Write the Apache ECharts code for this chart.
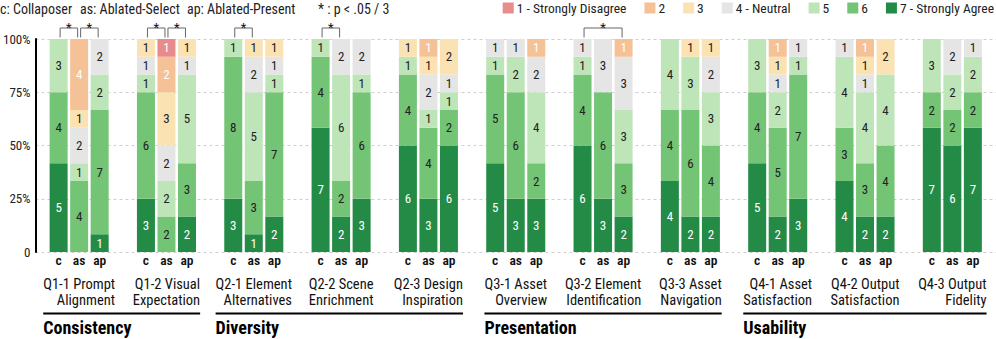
<!DOCTYPE html>
<html><head><meta charset="utf-8">
<script src="https://cdn.jsdelivr.net/npm/echarts@6/dist/echarts.min.js"></script>
<style>html,body{margin:0;padding:0;background:#fff}#chart{width:996px;height:339px}</style>
</head><body><div id="chart"></div>
<script>
// ---------- DATA ----------
const questionIds = ['Q1-1','Q1-2','Q2-1','Q2-2','Q2-3','Q3-1','Q3-2','Q3-3','Q4-1','Q4-2','Q4-3'];
const questionLabels = ['Q1-1 Prompt\nAlignment','Q1-2 Visual\nExpectation','Q2-1 Element\nAlternatives','Q2-2 Scene\nEnrichment','Q2-3 Design\nInspiration','Q3-1 Asset\nOverview','Q3-2 Element\nIdentification','Q3-3 Asset\nNavigation','Q4-1 Asset\nSatisfaction','Q4-2 Output\nSatisfaction','Q4-3 Output\nFidelity'];
const dimensions = ['Consistency','Diversity','Presentation','Usability'];
const dimensionOf = [0,0,1,1,1,2,2,2,3,3,3];
const conditions = ['c','as','ap'];
const levelNames = ['1 - Strongly Disagree','2','3','4 - Neutral','5','6','7 - Strongly Agree'];
const yTickLabels = ['0','25%','50%','75%','100%'];
const headerTexts = ['c: Collaposer','as: Ablated-Select','ap: Ablated-Present','* : p < .05 / 3'];

// counts per level (index = question)
const c1 = [0,0,0,0,0,0,0,0,0,0,0];
const c2 = [0,0,0,0,0,0,0,0,0,0,0];
const c3 = [0,1,0,0,1,0,0,0,0,0,0];
const c4 = [0,1,0,0,0,1,1,0,0,1,0];
const c5 = [3,1,1,1,1,1,1,4,3,4,3];
const c6 = [4,6,8,4,4,5,4,4,4,3,2];
const c7 = [5,3,3,7,6,5,6,4,5,4,7];

const as1 = [0,1,0,0,0,0,0,0,0,0,0];
const as2 = [4,2,0,0,1,0,0,0,1,1,0];
const as3 = [1,3,1,0,1,0,0,1,1,1,0];
const as4 = [2,2,2,2,2,1,3,0,1,1,2];
const as5 = [1,2,5,6,1,2,0,3,2,4,2];
const as6 = [4,2,3,2,4,6,6,6,5,3,2];
const as7 = [0,0,1,2,3,3,3,2,2,2,6];

const ap1 = [0,0,0,0,0,0,0,0,0,0,0];
const ap2 = [0,0,0,0,0,1,1,0,0,0,0];
const ap3 = [0,1,1,0,2,0,0,1,0,2,0];
const ap4 = [2,1,1,2,1,2,3,2,1,0,1];
const ap5 = [2,5,1,1,1,4,3,3,1,4,2];
const ap6 = [7,3,7,6,2,2,3,4,7,4,2];
const ap7 = [1,2,2,3,6,3,2,2,3,2,7];

const participants = 12;
// significant pairs: [question index, condition a, condition b]
const sigPairs = [[0,0,1],[0,1,2],[1,0,1],[1,1,2],[2,0,1],[3,0,1],[6,0,2]];

// ---------- STYLE ----------
const counts = {c:[c1,c2,c3,c4,c5,c6,c7], as:[as1,as2,as3,as4,as5,as6,as7], ap:[ap1,ap2,ap3,ap4,ap5,ap6,ap7]};
const ctx = document.createElement('canvas').getContext('2d');
function rawW(t, font) { ctx.font = font; return ctx.measureText(t).width; }
const HAS_COND = rawW('abcdefghijklmnop', '20px "Roboto Condensed", monospace') !== rawW('abcdefghijklmnop', '20px monospace');
const FONT = HAS_COND ? '"Roboto Condensed", Roboto, sans-serif' : 'Roboto, sans-serif';
const SX = HAS_COND ? 1 : 0.86;         // horizontal condensing of free texts
const SMALL = HAS_COND ? 13 : 12;
const colors = ['#e88b8b','#f5c196','#fbe2b2','#e5e5e5','#bee5b8','#74c476','#238b45'];
const labelColors = ['#fff','#fff','#222','#222','#222','#222','#fff'];
const BAR_W = 18, BAR_GAP = 0.14;

const chart = echarts.init(document.getElementById('chart'), null, {renderer:'svg'});

const series = [];
for (let L = 7; L >= 1; L--) {
  conditions.forEach(cond => {
    series.push({
      name: levelNames[L-1], type: 'bar', stack: cond,
      data: counts[cond][L-1],
      barWidth: BAR_W, barGap: Math.round(BAR_GAP*100) + '%',
      itemStyle: {color: colors[L-1]},
      label: {show: true, position: 'inside', color: labelColors[L-1], fontSize: 13, fontFamily: FONT,
        formatter: p => p.value > 0 ? String(p.value) : ''},
      emphasis: {disabled: true}
    });
  });
}

chart.setOption({
  animation: false,
  textStyle: {fontFamily: FONT},
  legend: {
    data: levelNames.map(n => ({name: n, icon: 'rect'})),
    right: 2, top: 1, padding: 0, itemWidth: 11, itemHeight: 11, itemGap: HAS_COND ? 18 : 15,
    textStyle: {fontSize: HAS_COND ? 13.5 : 12, fontFamily: FONT, color: '#222', padding: [0, 0, 0, -2]},
    selectedMode: false
  },
  grid: {left: 35, top: 39, width: 965, height: 213},
  xAxis: {type: 'category', data: questionIds, axisLabel: {show: false}, axisLine: {show: false}, axisTick: {show: false}, splitLine: {show: false}},
  yAxis: {type: 'value', min: 0, max: participants, interval: participants/4,
    axisLine: {show: true, lineStyle: {color: '#000', width: 2}},
    axisTick: {show: false},
    axisLabel: {fontSize: SMALL, color: '#222', fontFamily: FONT, margin: 5,
      formatter: v => yTickLabels[Math.round(v / (participants/4))]},
    splitLine: {lineStyle: {type: [3,3], color: '#cfcfcf', width: 1}}
  },
  series: series
});

// ---------- ANNOTATIONS derived from axes ----------
function textW(text, font) { ctx.font = font; return SX * Math.max(...text.split('\n').map(l => ctx.measureText(l).width)); }

const catX = questionIds.map((q, i) => chart.convertToPixel({xAxisIndex: 0}, i));
const pitch = BAR_W * (1 + BAR_GAP);
const barX = (i, j) => catX[i] + (j - 1) * pitch;
const yTop = chart.convertToPixel({yAxisIndex: 0}, participants);
const yZero = chart.convertToPixel({yAxisIndex: 0}, 0);

const g = [];
function txt(x, y, text, font, align, vAlign, fill, extra) {
  g.push({type: 'text', x: x, y: y, scaleX: SX, scaleY: 1,
    style: Object.assign({text: text, fill: fill || '#111', font: font, align: align, verticalAlign: vAlign}, extra || {})});
}
// header texts
const headerX = [0, 80, 187, 318];
headerTexts.forEach((t, k) => txt(headerX[k], 9, t, '14px ' + FONT, 'left', 'middle', '#222'));

// condition labels under bars
questionIds.forEach((q, i) => conditions.forEach((cond, j) =>
  txt(barX(i, j), yZero + 8, cond, '600 13.5px ' + FONT, 'center', 'middle', '#111')));

// question labels (right-aligned lines, block centered), one text per line
const QFONT = '14.5px ' + FONT;
const blocks = questionLabels.map((t, i) => { const w = textW(t, QFONT); return {l: catX[i] - w/2, r: catX[i] + w/2}; });
questionLabels.forEach((t, i) => t.split('\n').forEach((line, k) =>
  txt(blocks[i].r, yZero + 32 + k * 16, line, QFONT, 'right', 'middle', '#111')));

// dimension underline + title
dimensions.forEach((d, k) => {
  const idx = dimensionOf.map((v, i) => v === k ? i : -1).filter(i => i >= 0);
  const x1 = Math.min(...idx.map(i => blocks[i].l)), x2 = Math.max(...idx.map(i => blocks[i].r));
  g.push({type: 'line', shape: {x1: x1, y1: yZero + 61.5, x2: x2, y2: yZero + 61.5}, style: {stroke: '#000', lineWidth: 2}});
  txt(x1, yZero + 75, d, 'bold 18px ' + FONT, 'left', 'middle', '#000');
});

// significance brackets
sigPairs.forEach(([i, a, b]) => {
  const xa = barX(i, a) + 1.5, xb = barX(i, b) - 1.5;
  const yh = yTop - 11, yl = yTop - 1.5;
  g.push({type: 'polyline', shape: {points: [[xa, yl], [xa, yh], [xb, yh], [xb, yl]]}, style: {stroke: '#666', lineWidth: 1, fill: null}});
  g.push({type: 'text', x: (xa + xb) / 2, y: yh - 1, style: {text: '*', fill: '#111', font: '13px ' + FONT, align: 'center', verticalAlign: 'middle'}});
});

chart.setOption({graphic: g});
</script></body></html>
